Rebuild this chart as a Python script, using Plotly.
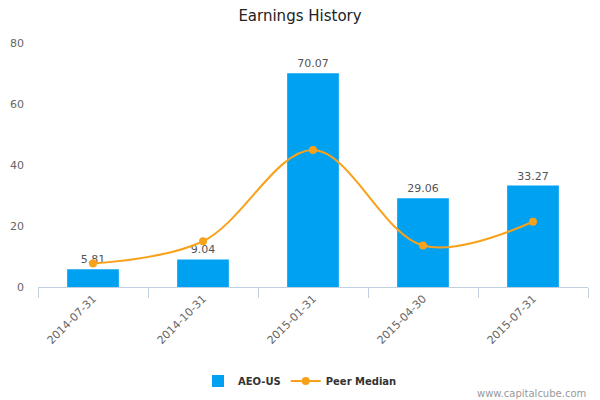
import plotly.graph_objects as go

categories = ["2014-07-31", "2014-10-31", "2015-01-31", "2015-04-30", "2015-07-31"]
aeo_values = [5.81, 9.04, 70.07, 29.06, 33.27]
aeo_labels = ["5.81", "9.04", "70.07", "29.06", "33.27"]
peer_median = [7.7, 15.0, 44.9, 13.6, 21.4]

FONT = "DejaVu Sans"

fig = go.Figure()
fig.add_trace(go.Bar(
    x=categories, y=aeo_values, name="AEO-US",
    marker=dict(color="#00a1f1", line=dict(width=0)),
    width=0.47,
    text=aeo_labels, textposition="outside", cliponaxis=False,
    textfont=dict(family=FONT, size=11, color="#555555"),
))
fig.add_trace(go.Scatter(
    x=categories, y=peer_median, name="Peer Median",
    mode="lines+markers",
    line=dict(color="#f8a11b", width=2, shape="spline", smoothing=1.0),
    marker=dict(color="#f8a11b", size=8),
))

fig.update_layout(
    width=600, height=400,
    margin=dict(l=38, r=12, t=43, b=113, autoexpand=False),
    paper_bgcolor="white", plot_bgcolor="white",
    title=dict(text="Earnings History", x=0.5, xanchor="center", xref="container",
               y=1 - 16 / 400, yanchor="middle", yref="container",
               font=dict(family=FONT, size=15, color="#222222")),
    font=dict(family=FONT, size=11, color="#666666"),
    showlegend=True,
    legend=dict(orientation="h", x=0.5, xanchor="center", xref="container",
                y=1 - 381 / 400, yanchor="middle", yref="container",
                font=dict(family=FONT, size=10, color="#333333", weight="bold"),
                itemwidth=30, tracegroupgap=0),
    bargap=0.53,
)
fig.update_xaxes(
    type="category", showgrid=False, showline=True, linecolor="#c0d0e0", linewidth=1,
    ticks="outside", tickson="boundaries", ticklen=10, tickcolor="#c0d0e0",
    tickangle=-45, tickfont=dict(family=FONT, size=11, color="#666666"),
    automargin=False,
)
fig.update_yaxes(
    range=[0, 80], tickvals=[0, 20, 40, 60, 80], showgrid=False, zeroline=False,
    showline=False, tickfont=dict(family=FONT, size=11, color="#666666"),
    ticklabelstandoff=13, automargin=False,
)
fig.add_annotation(text="www.capitalcube.com", xref="paper", yref="paper",
                   x=1.0, xanchor="right", y=-(393 - 287) / 244, yanchor="middle", showarrow=False,
                   font=dict(family=FONT, size=10, color="#999999"))

fig.write_html("out.html")
